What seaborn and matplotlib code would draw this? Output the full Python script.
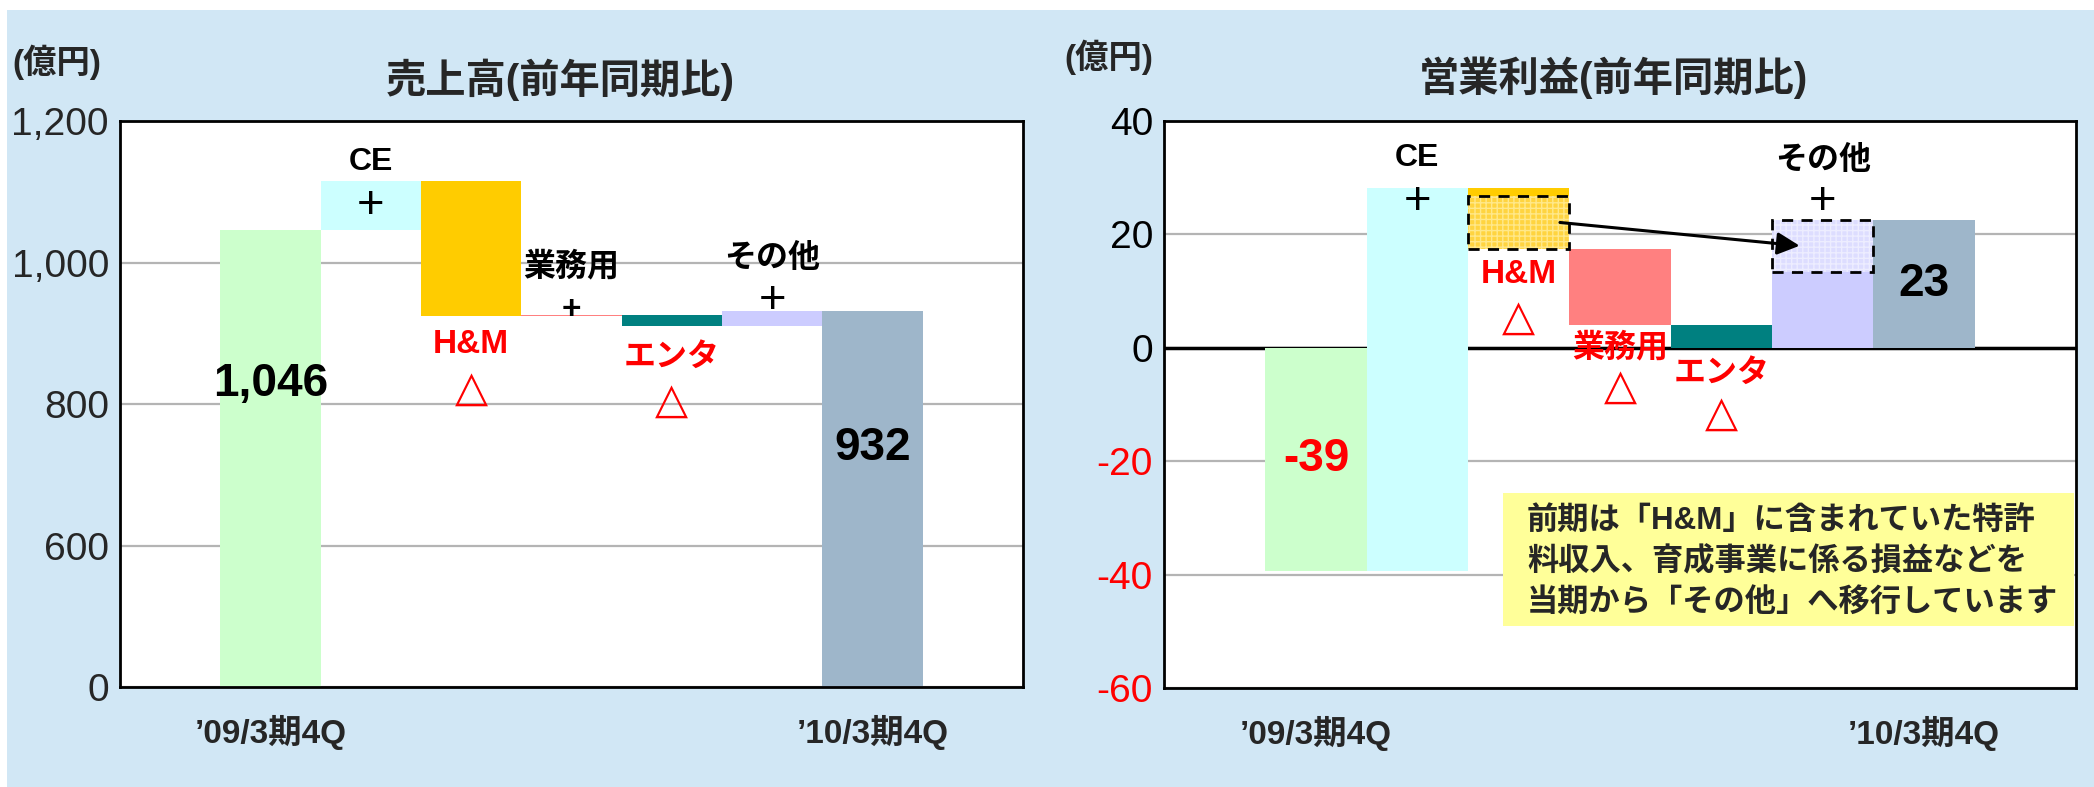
import numpy as np
import pandas as pd
import matplotlib
matplotlib.use("Agg")
import matplotlib.pyplot as plt
from matplotlib.patches import Rectangle
import seaborn as sns

# 売上高（億円） - 前年同期比のウォーターフォール
sales_steps = ["前年", "CE", "H&M", "業務用", "エンタ", "その他", "当年"]
sales_start = 1046
sales_delta = [69, -191, 2, -16, 22]
sales_end = 932
sales_ticks = [600, 800, 1000, 1200]

# 営業利益（億円）
op_steps = ["前年", "CE", "H&M", "業務用", "エンタ", "その他", "当年"]
op_start = -39.4
op_delta = [67.5, -10.6, -13.5, -4.0, 22.6]
op_end = 22.6
op_moved = 9.3  # 前期H&Mから「その他」へ移行した分
op_ticks = [-60, -40, -20, 0, 20, 40]

period_labels = ["’09/3期4Q", "’10/3期4Q"]
bar_colors = ["#CCFFCC", "#CCFFFF", "#FFCC00", "#FF8080", "#008080", "#CCCCFF", "#9EB6CA"]

BG = "#D1E7F5"
W, H = 2094, 787

sns.set_theme(style="white")
plt.rcParams["font.family"] = ["Liberation Sans", "Noto Sans CJK JP"]
plt.rcParams["hatch.linewidth"] = 1.0


def waterfall(steps, start, deltas, end, floor):
    levels = start + np.concatenate([[0.0], np.cumsum(deltas)])
    bottoms = [min(floor, start)] + list(np.minimum(levels[:-1], levels[1:])) + [min(floor, end)]
    tops = [max(floor, start)] + list(np.maximum(levels[:-1], levels[1:])) + [max(floor, end)]
    df = pd.DataFrame({"step": steps, "bottom": bottoms, "top": tops})
    df["height"] = df["top"] - df["bottom"]
    return df, levels


def draw_bars(ax, df):
    sns.barplot(data=df, x="step", y="height", order=list(df["step"]),
                bottom=df["bottom"].to_numpy(), width=1.0, errorbar=None,
                color="white", saturation=1, ax=ax, zorder=2)
    for patch, c in zip(ax.patches, bar_colors):
        patch.set_facecolor(c)
        patch.set_edgecolor("none")
        patch.set_linewidth(0)


def note(ax, x, y, text, dy, color="black", size=23, weight="bold"):
    ax.annotate(text, (x, y), xytext=(0, dy), textcoords="offset pixels",
                ha="center", va="center", color=color, fontsize=size,
                fontweight=weight, zorder=6)


def minus_mark(ax, x, y, dy):
    # 減少を示す赤い△
    ax.annotate("△", (x, y), xytext=(0, dy), textcoords="offset pixels",
                ha="center", va="center", color="red", fontsize=31,
                fontweight="bold", family="DejaVu Sans", zorder=6)


def style_axes(ax):
    ax.set_xlim(-1.5, 7.5)
    ax.set_facecolor("white")
    ax.yaxis.grid(True, color="#B4B4B4", lw=1.6)
    ax.xaxis.grid(False)
    ax.set_axisbelow(True)
    for s in ax.spines.values():
        s.set_visible(True)
        s.set_color("black")
        s.set_linewidth(2)
    ax.tick_params(axis="both", length=0)
    ax.tick_params(axis="y", labelsize=28, pad=8)
    ax.set_xticks([0, 6])
    ax.set_xticklabels(period_labels, fontsize=24, fontweight="bold")
    ax.tick_params(axis="x", pad=20)
    ax.set_xlabel("")
    ax.set_ylabel("")


fig = plt.figure(figsize=(W / 100, H / 100), dpi=100, facecolor="white")
fig.add_artist(Rectangle((7 / W, 0), 1, 1 - 10 / H, transform=fig.transFigure,
                         facecolor=BG, edgecolor="none", zorder=-10))

ax1 = fig.add_axes([120 / W, 1 - 687 / H, 903 / W, 566 / H])
ax2 = fig.add_axes([1164 / W, 1 - 688 / H, 912 / W, 567 / H])

# ---- 売上高 ----
# 縦軸は省略表示: 下端の「0」は 400 の位置
sales_floor = 400
sdf, sl = waterfall(sales_steps, sales_start, sales_delta, sales_end, sales_floor)
draw_bars(ax1, sdf)
style_axes(ax1)
ax1.set_ylim(sales_floor, 1200)
ax1.set_yticks([sales_floor] + sales_ticks)
ax1.set_yticklabels(["0"] + [f"{v:,}" for v in sales_ticks])

note(ax1, 1, sl[1], "CE", 19)
note(ax1, 1, (sl[0] + sl[1]) / 2, "+", 0, size=34, weight="normal")
note(ax1, 2, sl[2], "H&M", -28, color="red", size=24)
minus_mark(ax1, 2, sl[2], -72)
note(ax1, 3, sl[3], "業務用", 48)
note(ax1, 3, sl[3], "+", 4, size=24)
note(ax1, 4, sl[4], "エンタ", -32, color="red")
minus_mark(ax1, 4, sl[4], -75)
note(ax1, 5, sl[5], "その他", 52)
note(ax1, 5, sl[5], "+", 10, size=34, weight="normal")
note(ax1, 0, sales_start, f"{sales_start:,}", -154, size=33)
note(ax1, 6, sales_end, f"{sales_end:,}", -137, size=33)

fig.text(560 / W, 1 - 80 / H, "売上高(前年同期比)", ha="center", va="center",
         fontsize=29, fontweight="bold")
fig.text(12 / W, 1 - 62 / H, "(億円)", ha="left", va="center",
         fontsize=24, fontweight="bold")

# ---- 営業利益 ----
odf, ol = waterfall(op_steps, op_start, op_delta, op_end, 0)
draw_bars(ax2, odf)
style_axes(ax2)
ax2.set_ylim(-60, 40)
ax2.set_yticks(op_ticks)
ax2.set_yticklabels([str(v) for v in op_ticks])
for lbl, v in zip(ax2.get_yticklabels(), op_ticks):
    lbl.set_color("red" if v < 0 else "black")
ax2.axhline(0, color="black", lw=2.5, zorder=1.5)

# H&M から「その他」へ移行した部分
hm_i, other_i = 2, 5
ax2.bar(hm_i, op_moved, bottom=ol[2], width=1.0, color="#FFD440",
        hatch="+++", edgecolor="#FFE88A", lw=0, zorder=3)
ax2.bar(hm_i, op_moved, bottom=ol[2], width=1.0, fill=False,
        edgecolor="black", lw=2, linestyle=(0, (4, 3)), zorder=4)
ax2.bar(other_i, op_moved, bottom=op_end - op_moved, width=1.0, color="#DDDDFF",
        hatch="+++", edgecolor="#EDEDFF", lw=0, zorder=3)
ax2.bar(other_i, op_moved, bottom=op_end - op_moved, width=1.0, fill=False,
        edgecolor="black", lw=2, linestyle=(0, (4, 3)), zorder=4)
ax2.annotate("", xy=(other_i - 0.2, op_end - op_moved / 2),
             xytext=(hm_i + 0.38, ol[2] + op_moved / 2),
             arrowprops=dict(arrowstyle="-|>", color="black", lw=2.2,
                             mutation_scale=34), zorder=5)

note(ax2, 1, ol[1], "CE", 30)
note(ax2, 1, ol[1], "+", -14, size=34, weight="normal")
note(ax2, 2, ol[2], "H&M", -26, color="red", size=24)
minus_mark(ax2, 2, ol[2], -69)
note(ax2, 3, ol[3], "業務用", -23, color="red")
minus_mark(ax2, 3, ol[3], -62)
note(ax2, 4, ol[4], "エンタ", -26, color="red")
minus_mark(ax2, 4, ol[4], -66)
note(ax2, 5, ol[5], "その他", 59)
note(ax2, 5, ol[5], "+", 18, size=34, weight="normal")
note(ax2, 0, op_start / 2, f"{op_start:.0f}", 0, color="red", size=33)
note(ax2, 6, op_end / 2, f"{op_end:.0f}", 0, size=33)

ax2.add_patch(Rectangle((0.372, 0.109), 0.626, 0.235, transform=ax2.transAxes,
                        facecolor="#FFFF99", edgecolor="none", zorder=7,
                        clip_on=False))
ax2.text(0.398, 0.222,
         "前期は「H&M」に含まれていた特許\n料収入、育成事業に係る損益などを\n当期から「その他」へ移行しています",
         transform=ax2.transAxes, ha="left", va="center", fontsize=22.5,
         fontweight="bold", linespacing=1.45, zorder=8)

fig.text(1613 / W, 1 - 78 / H, "営業利益(前年同期比)", ha="center", va="center",
         fontsize=29, fontweight="bold")
fig.text(1064 / W, 1 - 57 / H, "(億円)", ha="left", va="center",
         fontsize=24, fontweight="bold")

fig.savefig("out.png", dpi=100)
